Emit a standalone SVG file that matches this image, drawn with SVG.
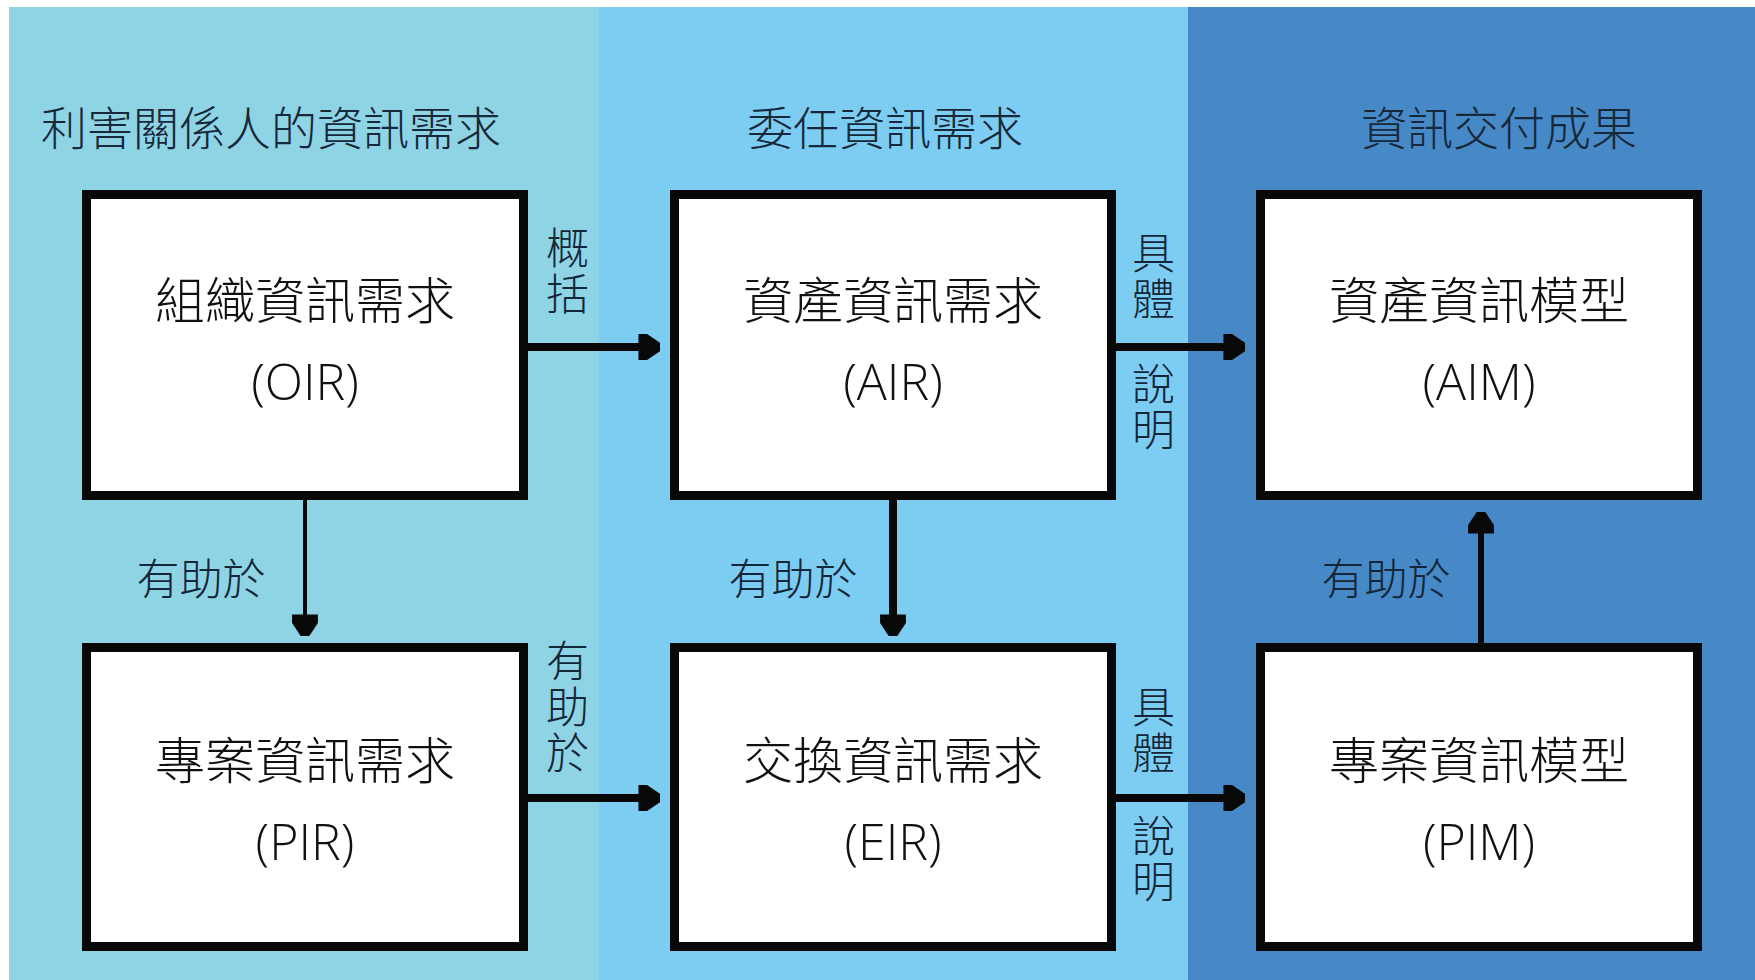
<svg xmlns="http://www.w3.org/2000/svg" width="1755" height="980" viewBox="0 0 1755 980">
<style>
text{font-family:"Open Sans","Noto Sans CJK TC",sans-serif;font-weight:300;}
.title{font-size:46px;fill:#16283a;text-anchor:middle;dominant-baseline:central;}
.lbl{font-size:50px;fill:#111;text-anchor:middle;dominant-baseline:central;}
.edge{font-size:43px;fill:#13263a;text-anchor:middle;dominant-baseline:central;}
.vert{font-size:43px;fill:#13263a;text-anchor:middle;writing-mode:vertical-rl;letter-spacing:3px;}
.box{fill:#fff;stroke:#080808;stroke-width:9;}
.conn{stroke:#080808;fill:none;}
</style>
<defs>
<marker id="ah" markerUnits="userSpaceOnUse" markerWidth="24" markerHeight="28" viewBox="0 -13 22 26" refX="20" refY="0" orient="auto">
<path d="M0,-12 L8,-12 L20,-4 L20,4 L8,12 L0,12 Z" fill="#080808"/>
</marker>
</defs>
<rect x="0" y="0" width="1755" height="980" fill="#fff"/>
<g id="bands">
<rect x="9" y="7" width="590" height="973" fill="#8fd4e5"/>
<rect x="599" y="7" width="589" height="973" fill="#7dcdf2"/>
<rect x="1188" y="7" width="567" height="973" fill="#4789c7"/>
</g>
<g id="titles">
<text class="title" x="271" y="127">利害關係人的資訊需求</text>
<text class="title" x="885" y="127">委任資訊需求</text>
<text class="title" x="1499" y="127">資訊交付成果</text>
</g>
<g id="connectors">
<path class="conn" d="M528,347 L660,347" stroke-width="8" marker-end="url(#ah)"/>
<path class="conn" d="M1116,347 L1245,347" stroke-width="8" marker-end="url(#ah)"/>
<path class="conn" d="M528,798 L660,798" stroke-width="8" marker-end="url(#ah)"/>
<path class="conn" d="M1116,798 L1245,798" stroke-width="8" marker-end="url(#ah)"/>
<path class="conn" d="M305,500 L305,636" stroke-width="4" marker-end="url(#ah)"/>
<path class="conn" d="M893,500 L893,636" stroke-width="8" marker-end="url(#ah)"/>
<path class="conn" d="M1481,643 L1481,512" stroke-width="6" marker-end="url(#ah)"/>
<text class="vert" x="565" y="272">概括</text>
<text class="vert" x="1151" y="277">具體</text>
<text class="vert" x="1151" y="408">說明</text>
<text class="vert" x="565" y="708">有助於</text>
<text class="vert" x="1151" y="731">具體</text>
<text class="vert" x="1151" y="860">說明</text>
<text class="edge" x="201" y="578">有助於</text>
<text class="edge" x="793" y="578">有助於</text>
<text class="edge" x="1386" y="578">有助於</text>
</g>
<g id="OIR">
<rect class="box" x="86.5" y="194.5" width="437" height="301"/>
<text class="lbl" x="305" y="300">組織資訊需求</text>
<text class="lbl" x="305" y="381">(OIR)</text>
</g>
<g id="AIR">
<rect class="box" x="674.5" y="194.5" width="437" height="301"/>
<text class="lbl" x="893" y="300">資產資訊需求</text>
<text class="lbl" x="893" y="381">(AIR)</text>
</g>
<g id="AIM">
<rect class="box" x="1260.5" y="194.5" width="437" height="301"/>
<text class="lbl" x="1479" y="300">資產資訊模型</text>
<text class="lbl" x="1479" y="381">(AIM)</text>
</g>
<g id="PIR">
<rect class="box" x="86.5" y="647.5" width="437" height="299"/>
<text class="lbl" x="305" y="760">專案資訊需求</text>
<text class="lbl" x="305" y="841">(PIR)</text>
</g>
<g id="EIR">
<rect class="box" x="674.5" y="647.5" width="437" height="299"/>
<text class="lbl" x="893" y="760">交換資訊需求</text>
<text class="lbl" x="893" y="841">(EIR)</text>
</g>
<g id="PIM">
<rect class="box" x="1260.5" y="647.5" width="437" height="299"/>
<text class="lbl" x="1479" y="760">專案資訊模型</text>
<text class="lbl" x="1479" y="841">(PIM)</text>
</g>
</svg>
